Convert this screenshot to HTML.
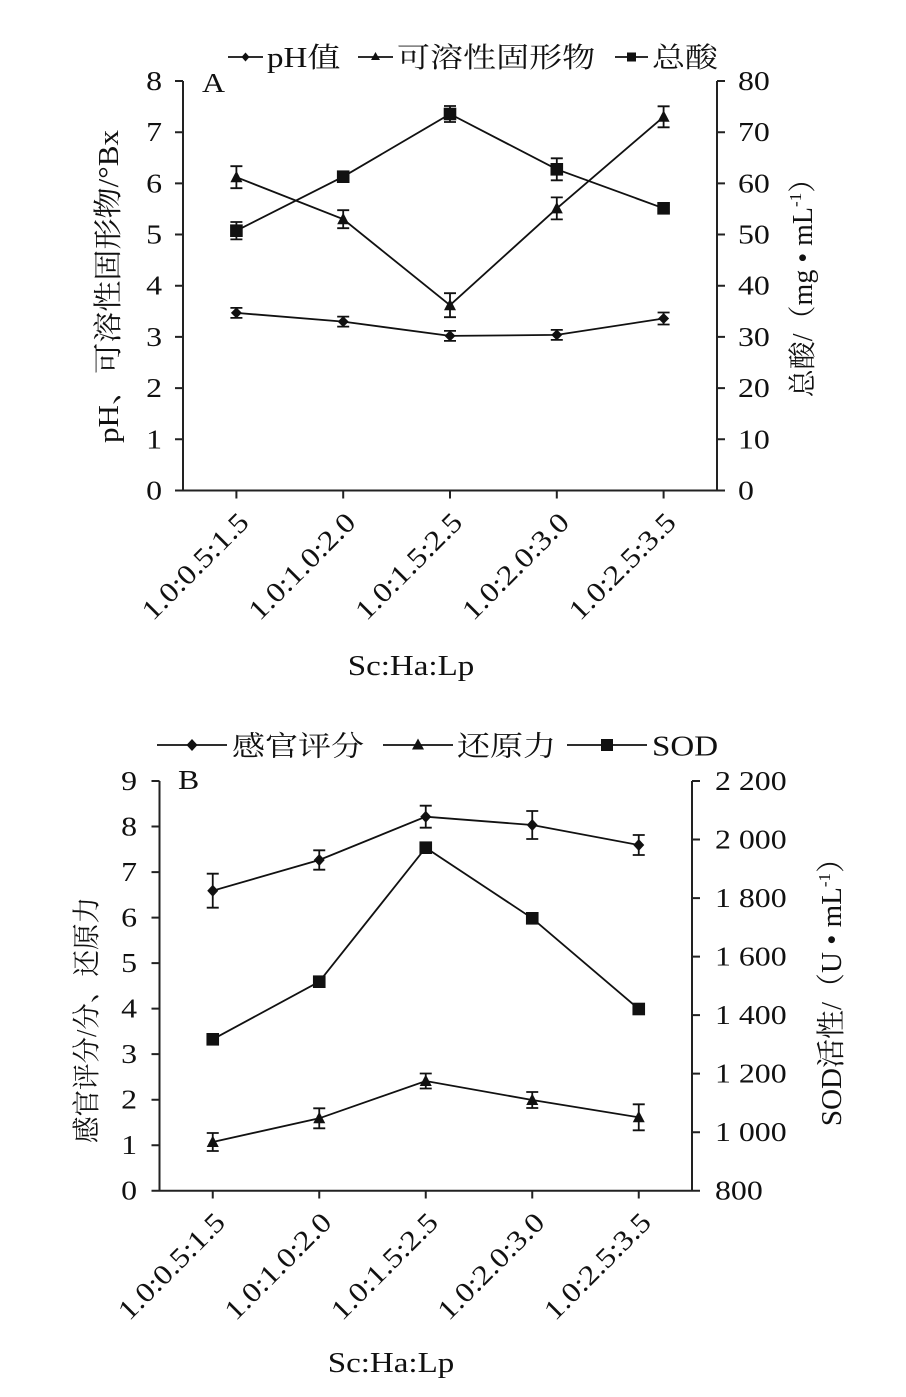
<!DOCTYPE html>
<html>
<head>
<meta charset="utf-8">
<style>
html,body{margin:0;padding:0;background:#fff;}
svg{display:block;}
text{font-family:"Liberation Serif","Noto Serif CJK SC",serif;fill:#111;}
.ax{stroke:#222;stroke-width:2;fill:none;}
.ln{stroke:#111;stroke-width:1.8;fill:none;}
.eb{stroke:#111;stroke-width:1.8;fill:none;}
.mk{fill:#111;stroke:none;}
</style>
</head>
<body>
<svg width="906" height="1397" viewBox="0 0 906 1397" xmlns="http://www.w3.org/2000/svg">
<rect width="906" height="1397" fill="#fff"/>

<!-- ================= CHART A ================= -->
<!-- legend -->
<g>
  <path class="ln" d="M228,57 H263"/>
  <path class="mk" d="M245.5,52.5 L249.5,57 L245.5,61.5 L241.5,57 Z"/>
  <text transform="translate(267,67) scale(1.18,1)" font-size="28">pH值</text>
  <path class="ln" d="M358,57 H393"/>
  <path class="mk" d="M375.5,52 L380,60 L371,60 Z"/>
  <text transform="translate(397,67) scale(1.18,1)" font-size="28">可溶性固形物</text>
  <path class="ln" d="M615,57 H648"/>
  <rect class="mk" x="627" y="52.5" width="9" height="9"/>
  <text transform="translate(652,67) scale(1.18,1)" font-size="28">总酸</text>
</g>
<text transform="translate(202,92) scale(1.18,1)" font-size="27">A</text>

<!-- axes -->
<path class="ax" d="M183,81 V490.5 M717,81 V490.5 M175,490.5 H725"/>
<path class="ax" d="M175,81 H183 M175,132.2 H183 M175,183.4 H183 M175,234.5 H183 M175,285.7 H183 M175,336.9 H183 M175,388.1 H183 M175,439.3 H183"/>
<path class="ax" d="M717,81 H725 M717,132.2 H725 M717,183.4 H725 M717,234.5 H725 M717,285.7 H725 M717,336.9 H725 M717,388.1 H725 M717,439.3 H725"/>
<path class="ax" d="M236.4,490.5 V498.5 M343.2,490.5 V498.5 M450,490.5 V498.5 M556.8,490.5 V498.5 M663.6,490.5 V498.5"/>

<!-- left tick labels -->
<g font-size="27" text-anchor="end">
  <text transform="translate(162,499.5) scale(1.18,1)">0</text>
  <text transform="translate(162,448.3) scale(1.18,1)">1</text>
  <text transform="translate(162,397.1) scale(1.18,1)">2</text>
  <text transform="translate(162,345.9) scale(1.18,1)">3</text>
  <text transform="translate(162,294.7) scale(1.18,1)">4</text>
  <text transform="translate(162,243.5) scale(1.18,1)">5</text>
  <text transform="translate(162,192.4) scale(1.18,1)">6</text>
  <text transform="translate(162,141.2) scale(1.18,1)">7</text>
  <text transform="translate(162,90) scale(1.18,1)">8</text>
</g>
<!-- right tick labels -->
<g font-size="27">
  <text transform="translate(738,499.5) scale(1.18,1)">0</text>
  <text transform="translate(738,448.3) scale(1.18,1)">10</text>
  <text transform="translate(738,397.1) scale(1.18,1)">20</text>
  <text transform="translate(738,345.9) scale(1.18,1)">30</text>
  <text transform="translate(738,294.7) scale(1.18,1)">40</text>
  <text transform="translate(738,243.5) scale(1.18,1)">50</text>
  <text transform="translate(738,192.4) scale(1.18,1)">60</text>
  <text transform="translate(738,141.2) scale(1.18,1)">70</text>
  <text transform="translate(738,90) scale(1.18,1)">80</text>
</g>

<!-- axis titles -->
<text transform="translate(118,286.5) rotate(-90)" font-size="29" text-anchor="middle" textLength="313" lengthAdjust="spacingAndGlyphs">pH、可溶性固形物/°Bx</text>
<text transform="translate(812,281) rotate(-90)" font-size="28" text-anchor="middle">总酸/（mg • mL<tspan font-size="17" dy="-11">-1</tspan><tspan dy="11">）</tspan></text>

<!-- x labels -->
<g font-size="28" text-anchor="end">
  <text transform="translate(250.4,524) rotate(-45)" textLength="138" lengthAdjust="spacingAndGlyphs">1.0:0.5:1.5</text>
  <text transform="translate(357.2,524) rotate(-45)" textLength="138" lengthAdjust="spacingAndGlyphs">1.0:1.0:2.0</text>
  <text transform="translate(464,524) rotate(-45)" textLength="138" lengthAdjust="spacingAndGlyphs">1.0:1.5:2.5</text>
  <text transform="translate(570.8,524) rotate(-45)" textLength="138" lengthAdjust="spacingAndGlyphs">1.0:2.0:3.0</text>
  <text transform="translate(677.6,524) rotate(-45)" textLength="138" lengthAdjust="spacingAndGlyphs">1.0:2.5:3.5</text>
</g>
<text transform="translate(411,675) scale(1.18,1)" font-size="28" text-anchor="middle">Sc:Ha:Lp</text>

<!-- series A -->
<polyline class="ln" points="236.4,312.9 343.2,321.6 450,335.9 556.8,334.9 663.6,318.5"/>
<polyline class="ln" points="236.4,177.2 343.2,219.2 450,305.2 556.8,208.4 663.6,116.8"/>
<polyline class="ln" points="236.4,230.7 343.2,176.7 450,114 556.8,169.3 663.6,208.3"/>

<!-- error bars A -->
<path class="eb" d="
M236.4,307.9 V317.9 M230.4,307.9 h12 M230.4,317.9 h12
M343.2,316.6 V326.6 M337.2,316.6 h12 M337.2,326.6 h12
M450,330.9 V340.9 M444,330.9 h12 M444,340.9 h12
M556.8,329.9 V339.9 M550.8,329.9 h12 M550.8,339.9 h12
M663.6,312.5 V324.5 M657.6,312.5 h12 M657.6,324.5 h12
M236.4,166.2 V188.2 M230.4,166.2 h12 M230.4,188.2 h12
M343.2,210.2 V228.2 M337.2,210.2 h12 M337.2,228.2 h12
M450,293.2 V317.2 M444,293.2 h12 M444,317.2 h12
M556.8,197.4 V219.4 M550.8,197.4 h12 M550.8,219.4 h12
M663.6,106.3 V127.3 M657.6,106.3 h12 M657.6,127.3 h12
M236.4,222 V239.4 M230.4,222 h12 M230.4,239.4 h12
M343.2,173.2 V180.2 M337.2,173.2 h12 M337.2,180.2 h12
M450,106 V122 M444,106 h12 M444,122 h12
M556.8,158.3 V180.3 M550.8,158.3 h12 M550.8,180.3 h12
M663.6,204.8 V211.8 M657.6,204.8 h12 M657.6,211.8 h12"/>

<!-- markers A -->
<g class="mk">
  <path d="M236.4,307.4 L241.9,312.9 L236.4,318.4 L230.9,312.9 Z"/>
  <path d="M343.2,316.1 L348.7,321.6 L343.2,327.1 L337.7,321.6 Z"/>
  <path d="M450,330.4 L455.5,335.9 L450,341.4 L444.5,335.9 Z"/>
  <path d="M556.8,329.4 L562.3,334.9 L556.8,340.4 L551.3,334.9 Z"/>
  <path d="M663.6,313 L669.1,318.5 L663.6,324 L658.1,318.5 Z"/>

  <path d="M236.4,170.7 L242.4,182.2 L230.4,182.2 Z"/>
  <path d="M343.2,212.7 L349.2,224.2 L337.2,224.2 Z"/>
  <path d="M450,298.7 L456,310.2 L444,310.2 Z"/>
  <path d="M556.8,201.9 L562.8,213.4 L550.8,213.4 Z"/>
  <path d="M663.6,110.3 L669.6,121.8 L657.6,121.8 Z"/>

  <rect x="230.1" y="224.4" width="12.6" height="12.6"/>
  <rect x="336.9" y="170.4" width="12.6" height="12.6"/>
  <rect x="443.7" y="107.7" width="12.6" height="12.6"/>
  <rect x="550.5" y="163" width="12.6" height="12.6"/>
  <rect x="657.3" y="202" width="12.6" height="12.6"/>
</g>

<!-- ================= CHART B ================= -->
<g>
  <path class="ln" d="M157,745 H227"/>
  <path class="mk" d="M192,739 L197.5,745 L192,751 L186.5,745 Z"/>
  <text transform="translate(232,755.5) scale(1.18,1)" font-size="28">感官评分</text>
  <path class="ln" d="M383,745 H453"/>
  <path class="mk" d="M418,738.5 L424,749.5 L412,749.5 Z"/>
  <text transform="translate(457,755.5) scale(1.18,1)" font-size="28">还原力</text>
  <path class="ln" d="M567,745 H647"/>
  <rect class="mk" x="601" y="739" width="12" height="12"/>
  <text transform="translate(652,755.5) scale(1.18,1)" font-size="28">SOD</text>
</g>
<text transform="translate(178,789) scale(1.18,1)" font-size="27">B</text>

<path class="ax" d="M159.5,781 V1190.7 M692,781 V1190.7 M151.5,1190.7 H700"/>
<path class="ax" d="M151.5,781 H159.5 M151.5,826.5 H159.5 M151.5,872.1 H159.5 M151.5,917.6 H159.5 M151.5,963.1 H159.5 M151.5,1008.6 H159.5 M151.5,1054.1 H159.5 M151.5,1099.7 H159.5 M151.5,1145.2 H159.5"/>
<path class="ax" d="M692,781 H700 M692,839.5 H700 M692,898.1 H700 M692,956.6 H700 M692,1015.1 H700 M692,1073.6 H700 M692,1132.2 H700"/>
<path class="ax" d="M212.75,1190.7 V1198.5 M319.25,1190.7 V1198.5 M425.75,1190.7 V1198.5 M532.25,1190.7 V1198.5 M638.75,1190.7 V1198.5"/>

<g font-size="27" text-anchor="end">
  <text transform="translate(137,1199.7) scale(1.18,1)">0</text>
  <text transform="translate(137,1154.2) scale(1.18,1)">1</text>
  <text transform="translate(137,1108.7) scale(1.18,1)">2</text>
  <text transform="translate(137,1063.1) scale(1.18,1)">3</text>
  <text transform="translate(137,1017.6) scale(1.18,1)">4</text>
  <text transform="translate(137,972.1) scale(1.18,1)">5</text>
  <text transform="translate(137,926.6) scale(1.18,1)">6</text>
  <text transform="translate(137,881.1) scale(1.18,1)">7</text>
  <text transform="translate(137,835.5) scale(1.18,1)">8</text>
  <text transform="translate(137,790) scale(1.18,1)">9</text>
</g>
<g font-size="27">
  <text transform="translate(715,1199.7) scale(1.18,1)">800</text>
  <text transform="translate(715,1141.2) scale(1.18,1)">1 000</text>
  <text transform="translate(715,1082.6) scale(1.18,1)">1 200</text>
  <text transform="translate(715,1024.1) scale(1.18,1)">1 400</text>
  <text transform="translate(715,965.6) scale(1.18,1)">1 600</text>
  <text transform="translate(715,907.1) scale(1.18,1)">1 800</text>
  <text transform="translate(715,848.5) scale(1.18,1)">2 000</text>
  <text transform="translate(715,790) scale(1.18,1)">2 200</text>
</g>

<text transform="translate(96,1020) rotate(-90)" font-size="28" text-anchor="middle" textLength="246" lengthAdjust="spacingAndGlyphs">感官评分/分、还原力</text>
<text transform="translate(841,985) rotate(-90)" font-size="29" text-anchor="middle">SOD活性/（U • mL<tspan font-size="17" dy="-11">-1</tspan><tspan dy="11">）</tspan></text>

<g font-size="28" text-anchor="end">
  <text transform="translate(226.75,1224) rotate(-45)" textLength="138" lengthAdjust="spacingAndGlyphs">1.0:0.5:1.5</text>
  <text transform="translate(333.25,1224) rotate(-45)" textLength="138" lengthAdjust="spacingAndGlyphs">1.0:1.0:2.0</text>
  <text transform="translate(439.75,1224) rotate(-45)" textLength="138" lengthAdjust="spacingAndGlyphs">1.0:1.5:2.5</text>
  <text transform="translate(546.25,1224) rotate(-45)" textLength="138" lengthAdjust="spacingAndGlyphs">1.0:2.0:3.0</text>
  <text transform="translate(652.75,1224) rotate(-45)" textLength="138" lengthAdjust="spacingAndGlyphs">1.0:2.5:3.5</text>
</g>
<text transform="translate(391,1372) scale(1.18,1)" font-size="28" text-anchor="middle">Sc:Ha:Lp</text>

<polyline class="ln" points="212.75,890.7 319.25,860 425.75,816.7 532.25,825 638.75,845"/>
<polyline class="ln" points="212.75,1039.3 319.25,981.7 425.75,847.7 532.25,918.3 638.75,1009"/>
<polyline class="ln" points="212.75,1142 319.25,1118.3 425.75,1081 532.25,1100 638.75,1117.3"/>

<path class="eb" d="
M212.75,873.7 V907.7 M206.75,873.7 h12 M206.75,907.7 h12
M319.25,850.3 V869.7 M313.25,850.3 h12 M313.25,869.7 h12
M425.75,805.7 V827.7 M419.75,805.7 h12 M419.75,827.7 h12
M532.25,811 V839 M526.25,811 h12 M526.25,839 h12
M638.75,835 V855 M632.75,835 h12 M632.75,855 h12
M212.75,1035.3 V1043.3 M206.75,1035.3 h12 M206.75,1043.3 h12
M319.25,977.7 V985.7 M313.25,977.7 h12 M313.25,985.7 h12
M425.75,843.7 V851.7 M419.75,843.7 h12 M419.75,851.7 h12
M532.25,914.3 V922.3 M526.25,914.3 h12 M526.25,922.3 h12
M638.75,1005 V1013 M632.75,1005 h12 M632.75,1013 h12
M212.75,1133 V1151 M206.75,1133 h12 M206.75,1151 h12
M319.25,1108.3 V1128.3 M313.25,1108.3 h12 M313.25,1128.3 h12
M425.75,1073.5 V1088.5 M419.75,1073.5 h12 M419.75,1088.5 h12
M532.25,1092 V1108 M526.25,1092 h12 M526.25,1108 h12
M638.75,1104.3 V1130.3 M632.75,1104.3 h12 M632.75,1130.3 h12"/>

<g class="mk">
  <path d="M212.75,884.7 L218.25,890.7 L212.75,896.7 L207.25,890.7 Z"/>
  <path d="M319.25,854 L324.75,860 L319.25,866 L313.75,860 Z"/>
  <path d="M425.75,810.7 L431.25,816.7 L425.75,822.7 L420.25,816.7 Z"/>
  <path d="M532.25,819 L537.75,825 L532.25,831 L526.75,825 Z"/>
  <path d="M638.75,839 L644.25,845 L638.75,851 L633.25,845 Z"/>

  <rect x="206.45" y="1033" width="12.6" height="12.6"/>
  <rect x="312.95" y="975.4" width="12.6" height="12.6"/>
  <rect x="419.45" y="841.4" width="12.6" height="12.6"/>
  <rect x="525.95" y="912" width="12.6" height="12.6"/>
  <rect x="632.45" y="1002.7" width="12.6" height="12.6"/>

  <path d="M212.75,1135.5 L218.75,1147 L206.75,1147 Z"/>
  <path d="M319.25,1111.8 L325.25,1123.3 L313.25,1123.3 Z"/>
  <path d="M425.75,1074.5 L431.75,1086 L419.75,1086 Z"/>
  <path d="M532.25,1093.5 L538.25,1105 L526.25,1105 Z"/>
  <path d="M638.75,1110.8 L644.75,1122.3 L632.75,1122.3 Z"/>
</g>
</svg>
</body>
</html>
